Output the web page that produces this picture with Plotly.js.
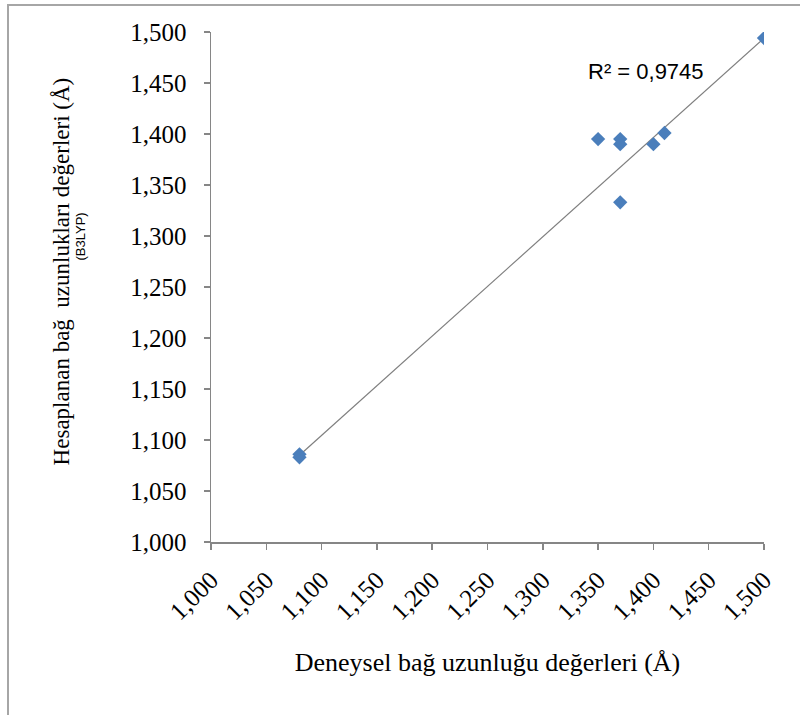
<!DOCTYPE html>
<html>
<head>
<meta charset="utf-8">
<script src="https://cdn.plot.ly/plotly-3.0.1.min.js"></script>
<style>
  html, body { margin: 0; padding: 0; background: #ffffff; }
  #wrap { position: relative; width: 800px; height: 715px; }
  #chart { position: absolute; left: 0; top: 0; width: 800px; height: 715px; }
  #frame { position: absolute; left: 7px; top: 4px; width: 793px; height: 711px;
           border-left: 2px solid #a6a6a6; border-top: 2px solid #a6a6a6; pointer-events: none; }
</style>
</head>
<body>
<div id="wrap">
  <div id="chart"></div>
  <div id="frame"></div>
</div>
<script>
// Experimental vs calculated (B3LYP) bond lengths (Å)
const experimental = [1.500, 1.350, 1.370, 1.370, 1.400, 1.410, 1.370, 1.080, 1.080];
const calculated   = [1.494, 1.395, 1.395, 1.390, 1.390, 1.401, 1.333, 1.083, 1.086];
// linear trendline as drawn in the picture (read at its two ends)
const trendX = [1.080, 1.500];
const trendY = [1.085, 1.494];
const tickValues = [1.000, 1.050, 1.100, 1.150, 1.200, 1.250, 1.300, 1.350, 1.400, 1.450, 1.500];
const tickLabels = ["1,000", "1,050", "1,100", "1,150", "1,200", "1,250", "1,300", "1,350", "1,400", "1,450", "1,500"];
const r2Label = "R\u00B2 = 0,9745";
const xTitle = "Deneysel ba\u011F uzunlu\u011Fu de\u011Ferleri (\u00C5)";
const yTitle1 = "Hesaplanan ba\u011F  uzunluklar\u0131 de\u011Ferleri (\u00C5)";
const yTitle2 = "(B3LYP)";

const serif = "'Liberation Serif', 'Times New Roman', serif";
const sans = "'Liberation Sans', Arial, sans-serif";
const sansNarrow = "'Liberation Sans Narrow', 'Liberation Sans', Arial, sans-serif";

const traces = [
  { x: trendX, y: trendY, mode: 'lines', type: 'scatter',
    line: { color: '#7f7f7f', width: 1.2 }, hoverinfo: 'skip', showlegend: false },
  { x: experimental, y: calculated, mode: 'markers', type: 'scatter',
    marker: { symbol: 'diamond', size: 11, color: '#4a7ebb', line: { width: 0 } }, showlegend: false }
];

const axisCommon = {
  tickmode: 'array', tickvals: tickValues, ticktext: tickLabels,
  range: [1.0, 1.5], showgrid: false, zeroline: false,
  showline: true, linecolor: '#868686', linewidth: 1.5,
  ticks: 'outside', ticklen: 6, tickcolor: '#868686', tickwidth: 1.5,
  tickfont: { family: serif, size: 25, color: '#000000' }
};

const layout = {
  width: 800, height: 715,
  margin: { l: 211, r: 36, t: 32, b: 173 },
  paper_bgcolor: '#ffffff', plot_bgcolor: '#ffffff',
  xaxis: Object.assign({}, axisCommon, { tickangle: -45, ticklabelstandoff: 6,
    title: { text: xTitle, font: { family: serif, size: 26, color: '#000000' }, standoff: 28 } }),
  yaxis: Object.assign({}, axisCommon, { ticklabelstandoff: 12 }),
  annotations: [
    { text: r2Label, xref: 'paper', yref: 'paper', x: 0.787, y: 0.922, showarrow: false,
      font: { family: sans, size: 22, color: '#000000' }, xanchor: 'center', yanchor: 'middle' },
    { text: yTitle1, xref: 'paper', yref: 'paper', x: -0.27, y: 0.53, showarrow: false, textangle: -90,
      font: { family: serif, size: 23, color: '#000000' }, xanchor: 'center', yanchor: 'middle' },
    { text: yTitle2, xref: 'paper', yref: 'paper', x: -0.236, y: 0.60, showarrow: false, textangle: -90,
      font: { family: sansNarrow, size: 13, color: '#000000' }, xanchor: 'center', yanchor: 'middle' }
  ]
};

Plotly.newPlot('chart', traces, layout, { displayModeBar: false, staticPlot: true });
</script>
</body>
</html>
